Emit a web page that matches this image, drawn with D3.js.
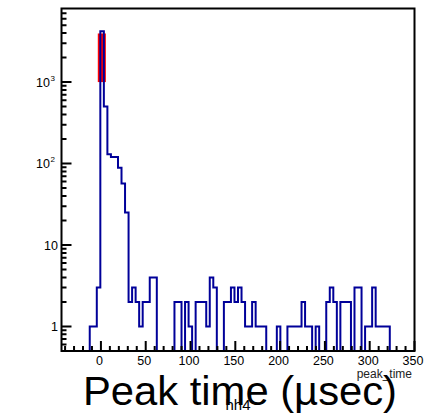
<!DOCTYPE html>
<html>
<head>
<meta charset="utf-8">
<script src="https://cdn.jsdelivr.net/npm/d3@7"></script>
<style>
  body { margin: 0; background: #fff; }
  text { font-family: "Liberation Sans", Arial, sans-serif; }
</style>
</head>
<body>
<svg width="424" height="419"></svg>
<script>
let width = 424;
let height = 419;

// histogram definition (100 bins over the x range)
let xRange = [-44, 350];
let yRange = [0.5, 8000];
let counts = [
  0, 0, 0, 0, 0, 0, 0, 0, 1, 1,
  3, 4200, 500, 130, 120, 120, 89, 57, 25, 2,
  3, 2, 1, 2, 2, 4, 4, 0, 0, 0,
  0, 0, 2, 2, 0, 2, 1, 0, 2, 2,
  2, 1, 4, 3, 0, 0, 2, 2, 3, 2,
  3, 2, 1, 1, 2, 1, 1, 1, 0, 0,
  0, 1, 0, 0, 1, 1, 1, 1, 2, 1,
  1, 0, 1, 0, 0, 2, 3, 2, 0, 2,
  2, 2, 0, 3, 3, 0, 1, 1, 3, 1,
  1, 1, 1, 0, 0, 0, 0, 0, 0, 0
];
// red highlighted band on the peak bin
let bandX = [-3.5, 5.5];
let bandY = [1000, 3950];

let xMajor = [0, 50, 100, 150, 200, 250, 300, 350];
let xMinor = d3.range(-40, 351, 10);
let yMajor = [1, 10, 100, 1000];
let yLabels = [['1', ''], ['10', ''], ['10', '2'], ['10', '3']];
let yMinor = [0.6, 0.7, 0.8, 0.9, 2, 3, 4, 5, 6, 7, 8, 9, 20, 30, 40, 50, 60, 70, 80, 90,
  200, 300, 400, 500, 600, 700, 800, 900, 2000, 3000, 4000, 5000, 6000, 7000];

let frame = { left: 61.5, right: 414.5, top: 8.5, bottom: 351 };

let x = d3.scaleLinear().domain(xRange).range([frame.left, frame.right]);
let y = d3.scaleLog().domain(yRange).range([frame.bottom, frame.top]);

let svg = d3.select('svg');

svg.append('defs')
  .append('clipPath')
  .attr('id', 'frame-clip')
  .append('rect')
    .attr('x', frame.left)
    .attr('y', frame.top)
    .attr('width', frame.right - frame.left)
    .attr('height', frame.bottom - frame.top)
  ;

let binWidth = (xRange[1] - xRange[0]) / counts.length;
let pts = [];
counts.forEach((c, i) => {
  let v = Math.max(c, yRange[0] * 0.9);
  pts.push([x(xRange[0] + i * binWidth), y(v)]);
  pts.push([x(xRange[0] + (i + 1) * binWidth), y(v)]);
});

let plot = svg.append('g').attr('clip-path', 'url(#frame-clip)');

plot.append('rect')
  .attr('x', x(bandX[0]))
  .attr('y', y(bandY[1]))
  .attr('width', x(bandX[1]) - x(bandX[0]))
  .attr('height', y(bandY[0]) - y(bandY[1]))
  .attr('fill', '#ff0000')
  ;

plot.append('path')
  .attr('d', d3.line()(pts))
  .attr('fill', 'none')
  .attr('stroke', '#000099')
  .attr('stroke-width', 2)
  ;

// frame
svg.append('rect')
  .attr('x', frame.left)
  .attr('y', frame.top)
  .attr('width', frame.right - frame.left)
  .attr('height', frame.bottom - frame.top)
  .attr('fill', 'none')
  .attr('stroke', '#000')
  .attr('stroke-width', 2)
  ;

// x ticks (inside, pointing up)
let xTicks = xMinor.map(d => ({ v: d, len: xMajor.includes(d) ? 10 : 5 }));
let xTickPath = xTicks.map(d => `M${x(d.v)},${frame.bottom}V${frame.bottom - d.len}`).join('');
svg.append('path')
  .attr('d', xTickPath)
  .attr('fill', 'none')
  .style('stroke', '#000')
  .style('stroke-width', '2px')
  ;

svg.append('g')
  .selectAll('text')
  .data(xMajor)
  .enter()
    .append('text')
    .attr('x', d => x(d) - 1.5)
    .attr('y', 364.5)
    .attr('text-anchor', 'middle')
    .attr('font-size', 12.5)
    .attr('fill', '#000')
    .text(d => d)
  ;

// y ticks (inside, pointing right)
let yTicks = yMinor.map(d => ({ v: d, len: 5 })).concat(yMajor.map(d => ({ v: d, len: 10 })));
let yTickPath = yTicks.map(d => `M${frame.left},${y(d.v)}H${frame.left + d.len}`).join('');
svg.append('path')
  .attr('d', yTickPath)
  .attr('fill', 'none')
  .style('stroke', '#000')
  .style('stroke-width', '2px')
  ;

let yl = svg.append('g')
  .selectAll('g')
  .data(yMajor)
  .enter()
    .append('g')
  ;
yl.append('text')
  .attr('x', (d, i) => yLabels[i][1] ? 50 : 58)
  .attr('y', d => y(d) + 4.5)
  .attr('text-anchor', 'end')
  .attr('font-size', 12.5)
  .text((d, i) => yLabels[i][0]);
yl.append('text')
  .attr('x', 50.5)
  .attr('y', d => y(d) - 1.5)
  .attr('font-size', 8)
  .text((d, i) => yLabels[i][1]);

// axis title and captions
svg.append('text')
  .attr('x', 412)
  .attr('y', 378)
  .attr('text-anchor', 'end')
  .attr('font-size', 12)
  .attr('fill', '#222')
  .text('peak_time');

svg.append('text')
  .attr('x', 238)
  .attr('y', 410)
  .attr('text-anchor', 'middle')
  .attr('font-size', 15)
  .attr('fill', '#000')
  .text('hh4');

svg.append('text')
  .attr('x', 83)
  .attr('y', 405)
  .attr('font-family', '"Open Sans", "Noto Sans", sans-serif')
  .attr('font-size', 40)
  .attr('textLength', 314)
  .attr('lengthAdjust', 'spacingAndGlyphs')
  .attr('fill', '#000')
  .text('Peak time (µsec)');
</script>
</body>
</html>
